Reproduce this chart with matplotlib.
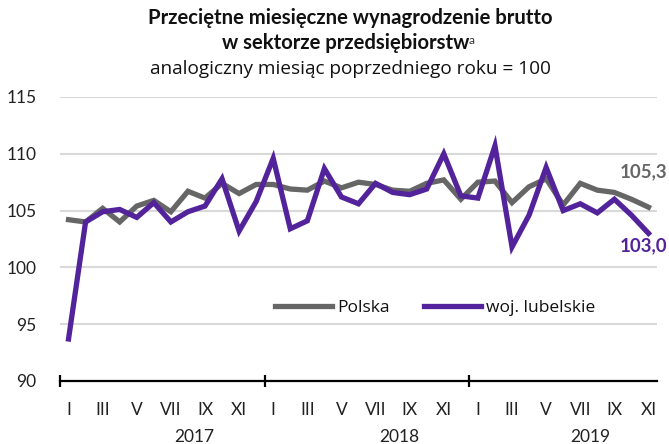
import matplotlib
matplotlib.use("Agg")
import matplotlib.pyplot as plt
import numpy as np

months_roman = ["I", "II", "III", "IV", "V", "VI", "VII", "VIII", "IX", "X", "XI", "XII"]
years = ["2017", "2018", "2019"]
months_per_year = [12, 12, 11]

polska = [104.2, 104.0, 105.2, 104.0, 105.4, 105.9, 104.9, 106.7, 106.1, 107.4, 106.5, 107.3,
          107.3, 106.9, 106.8, 107.6, 107.0, 107.5, 107.3, 106.8, 106.7, 107.4, 107.7, 106.0,
          107.5, 107.6, 105.7, 107.1, 107.8, 105.5, 107.4, 106.8, 106.6, 106.0, 105.3]
lubelskie = [93.7, 104.0, 104.9, 105.1, 104.4, 105.7, 104.0, 104.9, 105.4, 107.8, 103.2, 105.8,
             109.6, 103.4, 104.1, 108.7, 106.2, 105.6, 107.4, 106.6, 106.4, 106.9, 110.0, 106.3,
             106.1, 110.7, 101.8, 104.6, 108.8, 105.0, 105.6, 104.8, 106.0, 104.6, 103.0]
yticks = [90, 95, 100, 105, 110, 115]

c_gray = "#666666"
c_purple = "#52239A"
font = "Lato"
font2 = "Open Sans"

fig = plt.figure(figsize=(6.69, 4.44), dpi=100)
ax = fig.add_axes([60/669, 1-381/444, (657-60)/669, (381-97)/444])

n = len(polska)
x = np.arange(n)
ax.plot(x, polska, color=c_gray, lw=3.8, solid_joinstyle="miter", label="Polska", zorder=3)
ax.plot(x, lubelskie, color=c_purple, lw=3.8, solid_joinstyle="miter", label="woj. lubelskie", zorder=4)

ax.set_xlim(-0.5, n - 0.5)
ax.set_ylim(90, 115)
ax.set_yticks(yticks)
ax.set_yticklabels([str(v) for v in yticks], fontsize=12.5, family=font, color="#222222")
ax.tick_params(axis="y", length=0, pad=17)
for v in yticks[1:]:
    ax.axhline(v, color="#d9d9d9", lw=1.5, zorder=1)

for s in ["top", "right", "left"]:
    ax.spines[s].set_visible(False)
ax.spines["bottom"].set_color("black")
ax.spines["bottom"].set_linewidth(1.6)

# year boundary ticks
bounds = np.cumsum([0] + months_per_year)[:-1] - 0.5
ax.set_xticks(bounds)
ax.set_xticklabels([""] * len(bounds))
ax.tick_params(axis="x", which="major", direction="inout", length=9, width=1.6, color="black")

# month labels (odd months)
mpos, mlab = [], []
idx = 0
for ny in months_per_year:
    for m in range(ny):
        if m % 2 == 0:
            mpos.append(idx)
            mlab.append(months_roman[m])
        idx += 1
ax.set_xticks(mpos, minor=True)
ax.set_xticklabels(mlab, minor=True, fontsize=12.5, family=font, color="#222222")
ax.tick_params(axis="x", which="minor", length=0, pad=15)

# year labels
start = 0
for yname, ny in zip(years, months_per_year):
    off = 7.4 if ny == 12 else 6.6
    ax.text(start + off, 90 - 4.9, yname,
            ha="center", va="center", fontsize=12.5, family=font, color="#222222", clip_on=False)
    start += ny

# end labels
fig.text(667/669, 1 - 172/444, "105,3", ha="right", va="center", fontsize=13.5,
         fontweight="bold", family=font, color=c_gray)
fig.text(667/669, 1 - 246/444, "103,0", ha="right", va="center", fontsize=13.5,
         fontweight="bold", family=font, color=c_purple)

leg = ax.legend(loc="center", bbox_to_anchor=((435 - 60) / 597, (381 - 308) / 284), ncol=2,
                frameon=False, prop={"family": font2, "size": 12.5}, handlelength=3.3,
                handletextpad=0.25, columnspacing=2.0)
for t in leg.get_texts():
    t.set_color("#111111")

# title
cx = 350 / 669
fig.text(cx, 1 - 18/444, "Przeciętne miesięczne wynagrodzenie brutto", ha="center", va="center",
         fontsize=14.6, fontweight="bold", family=font, color="#111111")
t2 = fig.text(cx - 4/669, 1 - 43/444, "w sektorze przedsiębiorstw", ha="center", va="center",
              fontsize=14.6, fontweight="bold", family=font, color="#111111")
fig.canvas.draw()
bb = t2.get_window_extent(fig.canvas.get_renderer())
fig.text((bb.x1 - 1) / fig.bbox.width, 1 - 40/444, "a", ha="left", va="center", fontsize=8.5,
         family=font, color="#333333")
fig.text(cx, 1 - 69/444, "analogiczny miesiąc poprzedniego roku = 100", ha="center", va="center",
         fontsize=13.7, family=font2, color="#111111")

fig.savefig("out.png", dpi=100)
